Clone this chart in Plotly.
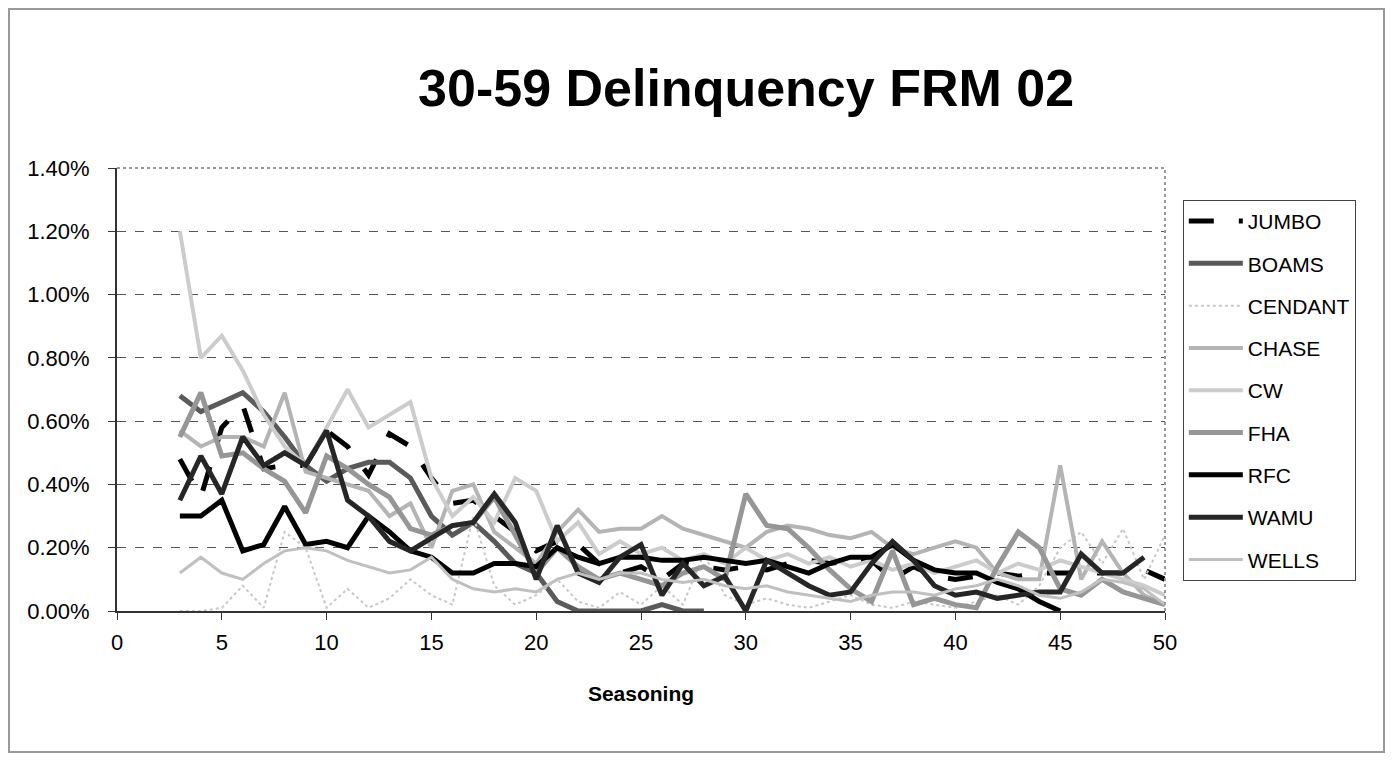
import plotly.graph_objects as go

seasoning = list(range(3, 51))

jumbo = [0.48, 0.36, 0.58, 0.65, 0.45, 0.46, 0.46, 0.57, 0.52, 0.43, 0.56, 0.52, 0.42, 0.34, 0.35, 0.30,
         0.25, 0.19, 0.22, 0.21, 0.15, 0.12, 0.14, 0.10, 0.15, 0.14, 0.13, 0.14, 0.13, 0.15, 0.16, 0.15,
         0.16, 0.16, 0.10, 0.14, 0.11, 0.10, 0.11, 0.12, 0.11, 0.12, 0.12, 0.12, 0.12, 0.12, 0.13, 0.10]
boams = [0.68, 0.63, 0.66, 0.69, 0.63, 0.55, 0.46, 0.41, 0.45, 0.47, 0.47, 0.42, 0.30, 0.24, 0.28, 0.22,
         0.15, 0.12, 0.03, 0.00, 0.00, 0.00, 0.00, 0.02, 0.00, 0.00, None, None, None, None, None, None,
         None, None, None, None, None, None, None, None, None, None, None, None, None, None, None, None]
cendant = [0.00, 0.00, 0.01, 0.08, 0.01, 0.25, 0.20, 0.01, 0.07, 0.01, 0.04, 0.10, 0.05, 0.02, 0.30, 0.08,
           0.02, 0.05, 0.10, 0.03, 0.01, 0.06, 0.02, 0.08, 0.02, 0.18, 0.05, 0.02, 0.04, 0.02, 0.01, 0.03,
           0.05, 0.02, 0.01, 0.03, 0.02, 0.01, 0.03, 0.05, 0.02, 0.08, 0.20, 0.25, 0.15, 0.26, 0.10, 0.24]
chase = [0.57, 0.52, 0.55, 0.55, 0.52, 0.69, 0.44, 0.42, 0.40, 0.38, 0.30, 0.34, 0.20, 0.38, 0.40, 0.25,
         0.20, 0.15, 0.25, 0.32, 0.25, 0.26, 0.26, 0.30, 0.26, 0.24, 0.22, 0.20, 0.25, 0.27, 0.26, 0.24,
         0.23, 0.25, 0.20, 0.18, 0.20, 0.22, 0.20, 0.12, 0.10, 0.10, 0.46, 0.10, 0.22, 0.12, 0.05, 0.02]
cw = [1.20, 0.80, 0.87, 0.76, 0.62, 0.52, 0.46, 0.58, 0.70, 0.58, 0.62, 0.66, 0.42, 0.30, 0.36, 0.28,
      0.42, 0.38, 0.22, 0.28, 0.18, 0.22, 0.18, 0.20, 0.16, 0.18, 0.15, 0.20, 0.16, 0.18, 0.15, 0.17,
      0.14, 0.16, 0.13, 0.15, 0.12, 0.14, 0.16, 0.12, 0.15, 0.13, 0.16, 0.14, 0.12, 0.10, 0.08, 0.05]
fha = [0.55, 0.69, 0.49, 0.50, 0.45, 0.41, 0.31, 0.49, 0.45, 0.40, 0.36, 0.26, 0.24, 0.27, 0.28, 0.36,
       0.24, 0.12, 0.20, 0.14, 0.10, 0.12, 0.10, 0.08, 0.12, 0.14, 0.10, 0.37, 0.27, 0.26, 0.20, 0.13,
       0.07, 0.03, 0.19, 0.02, 0.04, 0.02, 0.01, 0.14, 0.25, 0.20, 0.07, 0.05, 0.10, 0.06, 0.04, 0.02]
rfc = [0.30, 0.30, 0.35, 0.19, 0.21, 0.33, 0.21, 0.22, 0.20, 0.30, 0.25, 0.19, 0.17, 0.12, 0.12, 0.15,
       0.15, 0.14, 0.20, 0.17, 0.15, 0.17, 0.17, 0.16, 0.16, 0.17, 0.16, 0.15, 0.16, 0.14, 0.12, 0.15,
       0.17, 0.17, 0.21, 0.16, 0.13, 0.12, 0.12, 0.09, 0.07, 0.03, 0.00, None, None, 0.00, None, None]
wamu = [0.35, 0.49, 0.37, 0.55, 0.46, 0.50, 0.46, 0.57, 0.35, 0.30, 0.22, 0.19, 0.23, 0.27, 0.28, 0.37,
        0.28, 0.10, 0.27, 0.12, 0.09, 0.17, 0.21, 0.05, 0.15, 0.08, 0.11, 0.00, 0.16, 0.12, 0.08, 0.05,
        0.06, 0.15, 0.22, 0.16, 0.08, 0.05, 0.06, 0.04, 0.05, 0.06, 0.06, 0.18, 0.12, 0.12, 0.17, None]
wells = [0.12, 0.17, 0.12, 0.10, 0.15, 0.19, 0.20, 0.19, 0.16, 0.14, 0.12, 0.13, 0.17, 0.10, 0.07, 0.06,
         0.07, 0.06, 0.10, 0.12, 0.10, 0.12, 0.12, 0.10, 0.09, 0.10, 0.08, 0.07, 0.08, 0.06, 0.05, 0.04,
         0.03, 0.05, 0.06, 0.06, 0.05, 0.07, 0.08, 0.10, 0.08, 0.05, 0.04, 0.06, 0.10, 0.09, 0.07, 0.02]

series_names = ["JUMBO", "BOAMS", "CENDANT", "CHASE", "CW", "FHA", "RFC", "WAMU", "WELLS"]
series_values = [jumbo, boams, cendant, chase, cw, fha, rfc, wamu, wells]
styles = [
    dict(color="#000000", width=5, dash="longdash"),
    dict(color="#5a5a5a", width=5, dash="solid"),
    dict(color="#c8c8c8", width=2, dash="dot"),
    dict(color="#b4b4b4", width=4, dash="solid"),
    dict(color="#cccccc", width=4, dash="solid"),
    dict(color="#969696", width=5, dash="solid"),
    dict(color="#000000", width=5, dash="solid"),
    dict(color="#262626", width=5, dash="solid"),
    dict(color="#c0c0c0", width=3, dash="solid"),
]

fig = go.Figure()
for name, vals, st in zip(series_names, series_values, styles):
    fig.add_trace(go.Scatter(x=seasoning, y=vals, name=name, mode="lines",
                             line=st, legendgroup=name, connectgaps=False))

FONT = "Liberation Sans, Arial, sans-serif"
PW, PH = 1048, 443
fig.update_layout(
    autosize=True,
    paper_bgcolor="white",
    plot_bgcolor="white",
    margin=dict(l=109, r=220, t=160, b=142),
    font=dict(family=FONT, size=22, color="black"),
    title=dict(text="<b>30-59 Delinquency FRM 02</b>", x=0.536, xanchor="center",
               y=0.893, yanchor="middle", font=dict(size=52, family=FONT)),
    showlegend=True,
    legend=dict(x=1.017, y=0.928, xanchor="left", yanchor="top",
                bordercolor="#444444", borderwidth=1, bgcolor="white",
                font=dict(size=21, family=FONT), tracegroupgap=12, itemwidth=54),
    xaxis=dict(range=[0, 50], tickmode="linear", tick0=0, dtick=5,
               showgrid=False, zeroline=False, showline=True, linecolor="#333333", linewidth=2,
               ticks="outside", ticklen=7, tickcolor="#333333", ticklabelstandoff=4,
               title=dict(text="<b>Seasoning</b>", font=dict(size=21, family=FONT), standoff=32),
               mirror=False),
    yaxis=dict(range=[0, 1.4], tickmode="linear", tick0=0, dtick=0.2, tickformat=".2f",
               ticksuffix="%", showgrid=True, gridcolor="#555555", griddash="dash", gridwidth=1,
               zeroline=False, showline=True, linecolor="#333333", linewidth=2,
               ticks="outside", ticklen=7, tickcolor="#333333", ticklabelstandoff=14),
    shapes=[
        dict(type="line", xref="paper", yref="paper", x0=0, x1=1, y0=1, y1=1,
             line=dict(color="#999999", width=2, dash="dot")),
        dict(type="line", xref="paper", yref="paper", x0=1, x1=1, y0=0, y1=1,
             line=dict(color="#999999", width=2, dash="dot")),
        dict(type="rect", xref="paper", yref="paper",
             x0=-108 / PW, x1=1 + 219 / PW, y0=-141 / PH, y1=1 + 159 / PH,
             line=dict(color="#999999", width=2)),
    ],
)

fig.write_html("out.html")
